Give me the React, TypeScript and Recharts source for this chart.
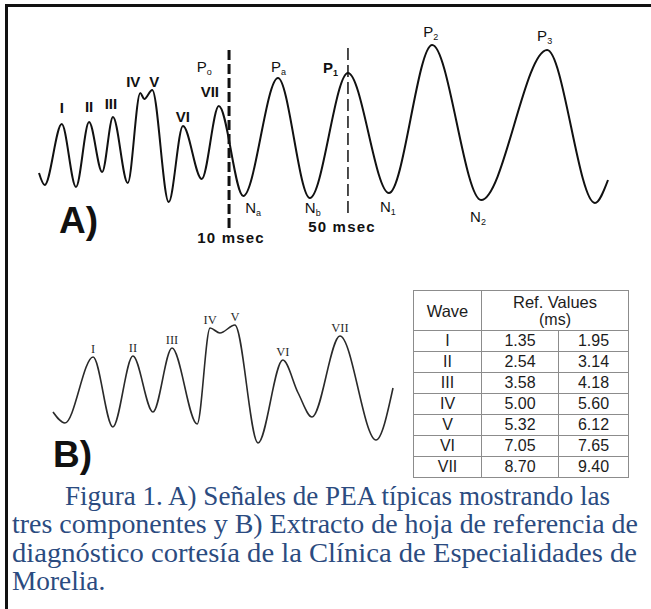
import React from 'react';
import { LineChart, Line, XAxis, YAxis, ReferenceLine, LabelList } from 'recharts';

const SANS = '"Liberation Sans", Arial, sans-serif';
const SERIF = '"Liberation Serif", "Times New Roman", serif';

// A) typical AEP trace: sweep time (0-100) and amplitude (arbitrary units)
const A_TIME = [0, 1.0, 4.0, 6.5, 8.8, 11.1, 13.0, 15.6, 17.8, 18.5, 19.9, 22.8, 25.3, 28.6, 31.6, 35.9, 42.0, 47.6, 54.3, 61.5, 69.1, 77.7, 89.3, 97.7, 100];
const A_AMP = [2.7, 1.5, 7.6, 1.3, 7.8, 2.8, 8.3, 1.7, 10.7, 10.1, 11.0, -0.2, 7.4, 2.1, 9.4, 0.4, 12.2, 0.2, 12.7, 0.7, 15.5, 0.0, 15.0, -0.3, 2.0];
const A_PEAKS = ['', '', 'I', '', 'II', '', 'III', '', 'IV', '', 'V', '', 'VI', '', 'VII', 'Na', 'Pa', 'Nb', 'P1', 'N1', 'P2', 'N2', 'P3', '', ''];

// latency markers on trace A
const MARK_TIME = [33.4, 54.3];
const MARK_LABELS = ['10 msec', '50 msec'];

// B) reference-sheet trace
const B_TIME = [0, 3.5, 11.8, 17.6, 23.5, 29.4, 35.0, 42.4, 46.2, 49.1, 53.5, 60.3, 67.6, 72.1, 76.2, 84.4, 95.0, 100];
const B_AMP = [3.8, 2.7, 9.3, 2.3, 9.4, 3.8, 10.2, 2.6, 12.2, 11.7, 12.5, 0.7, 9.0, 5.7, 3.3, 11.4, 1.0, 6.2];
const B_PEAKS = ['', '', 'I', '', 'II', '', 'III', '', 'IV', '', 'V', '', 'VI', '', '', 'VII', '', ''];

// reference latency table
const WAVES = ['I', 'II', 'III', 'IV', 'V', 'VI', 'VII'];
const REF_LOW = ['1.35', '2.54', '3.58', '5.00', '5.32', '7.05', '8.70'];
const REF_HIGH = ['1.95', '3.14', '4.18', '5.60', '6.12', '7.65', '9.40'];

const CAPTION = [
  'Figura 1. A) Señales de PEA típicas mostrando las',
  'tres componentes y B) Extracto de hoja de referencia de',
  'diagnóstico cortesía de la Clínica de Especialidades de',
  'Morelia.',
];

const dataA = A_TIME.map((t, i) => ({ t, amp: A_AMP[i], tag: A_PEAKS[i] }));
const dataB = B_TIME.map((t, i) => ({ t, amp: B_AMP[i], tag: B_PEAKS[i] }));

type Piece = { text: string; sub?: string; dx: number; dy: number; bold?: boolean; start?: boolean };

const A_TAGS: Record<string, Piece[]> = {
  I: [{ text: 'I', dx: 0, dy: -11, bold: true }],
  II: [{ text: 'II', dx: 0, dy: -10, bold: true }],
  III: [{ text: 'III', dx: -2, dy: -8, bold: true }],
  IV: [{ text: 'IV', dx: -7, dy: -6, bold: true }],
  V: [{ text: 'V', dx: 2, dy: -3, bold: true }],
  VI: [{ text: 'VI', dx: 0, dy: -4, bold: true }],
  VII: [
    { text: 'VII', dx: -9, dy: -9, bold: true },
    { text: 'P', sub: 'o', dx: -22, dy: -34, start: true },
  ],
  Pa: [{ text: 'P', sub: 'a', dx: -7, dy: -6, start: true }],
  P1: [{ text: 'P', sub: '1', dx: -25, dy: 0, start: true, bold: true }],
  P2: [{ text: 'P', sub: '2', dx: -9, dy: -8, start: true }],
  P3: [{ text: 'P', sub: '3', dx: -10, dy: -9, start: true }],
  Na: [{ text: 'N', sub: 'a', dx: 2, dy: 17, start: true }],
  Nb: [{ text: 'N', sub: 'b', dx: -5, dy: 15, start: true }],
  N1: [{ text: 'N', sub: '1', dx: -9, dy: 19, start: true }],
  N2: [{ text: 'N', sub: '2', dx: -11, dy: 22, start: true }],
};

const PeakTagA = (props: any) => {
  const { x, y, value } = props;
  if (!value || !A_TAGS[value]) return null;
  return (
    <g>
      {A_TAGS[value].map((p, i) => (
        <text
          key={i}
          x={x + p.dx}
          y={y + p.dy}
          textAnchor={p.start ? 'start' : 'middle'}
          fontFamily={SANS}
          fontSize={15}
          fontWeight={p.bold ? 700 : 400}
          fill="#111"
        >
          {p.text}
          {p.sub && (
            <tspan fontSize={9} dy={3}>
              {p.sub}
            </tspan>
          )}
        </text>
      ))}
    </g>
  );
};

const PeakTagB = (props: any) => {
  const { x, y, value } = props;
  if (!value) return null;
  return (
    <text x={x} y={y - 4} textAnchor="middle" fontFamily={SERIF} fontSize={12.5} fill="#2a2a2a">
      {value}
    </text>
  );
};

const MarkLabel = (props: any) => {
  const { viewBox, text, dx = 0 } = props;
  if (!viewBox) return null;
  return (
    <text
      x={viewBox.x + dx}
      y={viewBox.y + viewBox.height + 15}
      textAnchor="middle"
      fontFamily={SANS}
      fontSize={15}
      fontWeight={700}
      letterSpacing={1.2}
      fill="#111"
    >
      {text}
    </text>
  );
};

const cell: React.CSSProperties = {
  border: '1px solid #8c8c8c',
  padding: 0,
  textAlign: 'center',
  height: 20,
  lineHeight: '18px',
};

const RefTable = () => (
  <table
    style={{
      position: 'absolute',
      left: 413,
      top: 290,
      width: 215,
      borderCollapse: 'collapse',
      tableLayout: 'fixed',
      fontFamily: SANS,
      fontSize: 16,
      color: '#1c1c1c',
    }}
  >
    <colgroup>
      <col style={{ width: 68 }} />
      <col style={{ width: 77 }} />
      <col style={{ width: 70 }} />
    </colgroup>
    <tbody>
      <tr>
        <td style={{ ...cell, height: 39, fontSize: 16.5 }}>Wave</td>
        <td style={{ ...cell, height: 39 }} colSpan={2}>
          <div style={{ fontSize: 16.5 }}>Ref. Values</div>
          <div>(ms)</div>
        </td>
      </tr>
      {WAVES.map((w, i) => (
        <tr key={w}>
          <td style={cell}>{w}</td>
          <td style={cell}>{REF_LOW[i]}</td>
          <td style={cell}>{REF_HIGH[i]}</td>
        </tr>
      ))}
    </tbody>
  </table>
);

export default function App() {
  return (
    <div style={{ position: 'absolute', left: 0, top: 0, width: 651, height: 609, background: '#fff', overflow: 'hidden' }}>
      <svg width={651} height={609} style={{ position: 'absolute', left: 0, top: 0 }}>
        <rect x={5} y={4} width={646} height={3} fill="#111" />
        <rect x={5} y={4} width={3} height={605} fill="#111" />
        <text x={59} y={233} fontFamily={SANS} fontSize={37} fontWeight={700} fill="#111">A)</text>
        <text x={53} y={467} fontFamily={SANS} fontSize={37} fontWeight={700} fill="#111">B)</text>
        <g fontFamily={SERIF} fontSize={27.3} fill="#2b4b80">
          <text x={65} y={505} textLength={545} lengthAdjust="spacingAndGlyphs">{CAPTION[0]}</text>
          <text x={12} y={533} textLength={626} lengthAdjust="spacingAndGlyphs">{CAPTION[1]}</text>
          <text x={12} y={562} textLength={625} lengthAdjust="spacingAndGlyphs">{CAPTION[2]}</text>
          <text x={12} y={590}>{CAPTION[3]}</text>
        </g>
      </svg>

      <div style={{ position: 'absolute', left: 0, top: 0 }}>
        <LineChart width={651} height={260} data={dataA} margin={{ top: 30, right: 43, bottom: 10, left: 39 }}>
          <XAxis type="number" dataKey="t" domain={[0, 100]} hide />
          <YAxis type="number" domain={[-5, 17]} hide />
          <Line type="monotone" dataKey="amp" stroke="#111" strokeWidth={2} dot={false} isAnimationActive={false}>
            <LabelList dataKey="tag" content={<PeakTagA />} />
          </Line>
          <ReferenceLine
            segment={[{ x: MARK_TIME[0], y: 15 }, { x: MARK_TIME[0], y: -2.8 }]}
            stroke="#111"
            strokeWidth={3}
            strokeDasharray="10 4"
            ifOverflow="visible"
            label={<MarkLabel text={MARK_LABELS[0]} dx={2} />}
          />
          <ReferenceLine
            segment={[{ x: MARK_TIME[1], y: 15.2 }, { x: MARK_TIME[1], y: -1.7 }]}
            stroke="#111"
            strokeWidth={1.5}
            strokeDasharray="12 5"
            ifOverflow="visible"
            label={<MarkLabel text={MARK_LABELS[1]} dx={-6} />}
          />
        </LineChart>
      </div>

      <div style={{ position: 'absolute', left: 0, top: 280 }}>
        <LineChart width={651} height={200} data={dataB} margin={{ top: 30, right: 258, bottom: 20, left: 53 }}>
          <XAxis type="number" dataKey="t" domain={[0, 100]} hide />
          <YAxis type="number" domain={[-1, 14]} hide />
          <Line type="monotone" dataKey="amp" stroke="#2a2a2a" strokeWidth={1.6} dot={false} isAnimationActive={false}>
            <LabelList dataKey="tag" content={<PeakTagB />} />
          </Line>
        </LineChart>
      </div>

      <RefTable />
    </div>
  );
}
